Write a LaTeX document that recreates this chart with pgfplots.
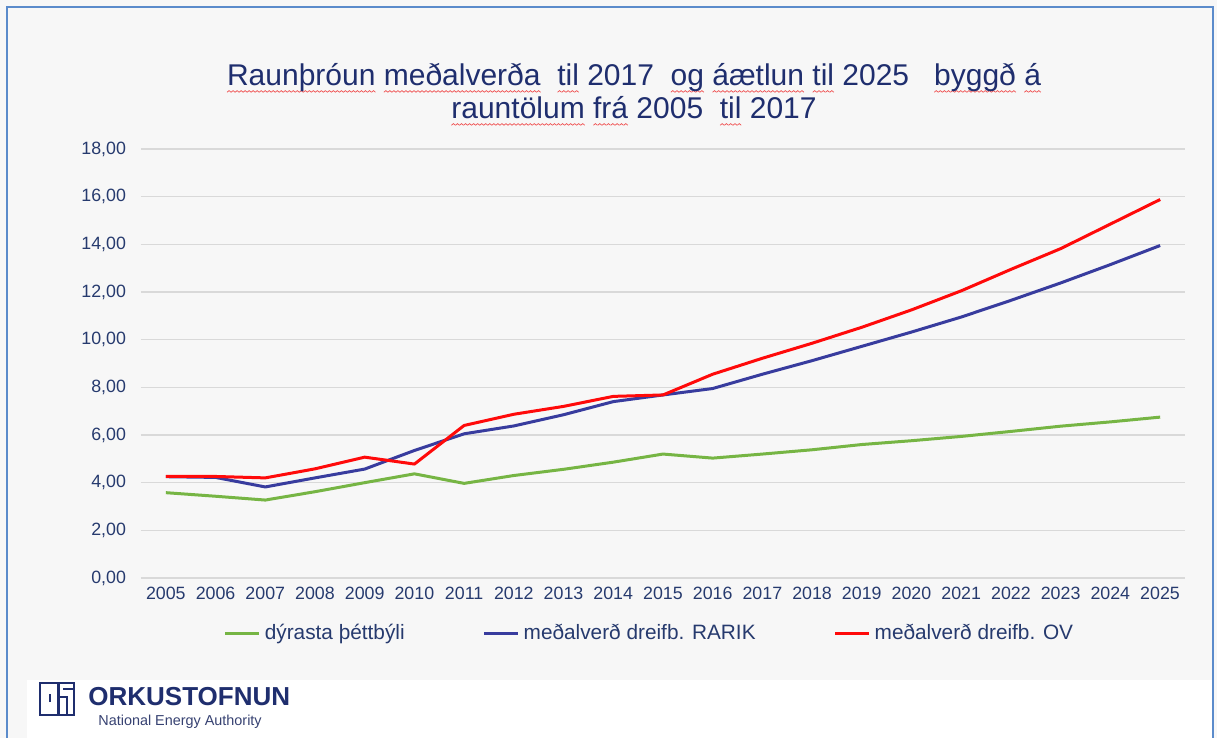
\documentclass[border=0pt]{standalone}
\usepackage{pgfplots}
\usepackage{pgfplotstable}
\pgfplotsset{compat=1.18}
\usepackage{fontspec}
\setmainfont{Liberation Sans}

\definecolor{bgc}{HTML}{F7F7F7}
\definecolor{framec}{HTML}{5B8BCB}
\definecolor{navy}{HTML}{1F2E6E}
\definecolor{tickc}{HTML}{263A6E}
\definecolor{gridc}{HTML}{D9D9D9}
\definecolor{cgreen}{HTML}{76B544}
\definecolor{cblue}{HTML}{383C9E}
\definecolor{cred}{HTML}{FF0A0A}
\definecolor{squig}{HTML}{F05050}

% spell-check squiggle under a word
\newsavebox\wavebox
\newsavebox\wordbox
\newcommand\sq[1]{\sbox\wordbox{#1}\rlap{\hbox to \wd\wordbox{\xleaders\copy\wavebox\hfill}}\usebox\wordbox}

% year, dyrasta thettbyli, RARIK, OV
\pgfplotstableread{
year green blue red
2005 3.58 4.25 4.26
2006 3.43 4.22 4.26
2007 3.27 3.82 4.20
2008 3.62 4.20 4.58
2009 4.00 4.57 5.07
2010 4.37 5.35 4.78
2011 3.97 6.05 6.40
2012 4.30 6.38 6.87
2013 4.56 6.85 7.20
2014 4.86 7.40 7.62
2015 5.20 7.68 7.68
2016 5.03 7.95 8.55
2017 5.20 8.55 9.22
2018 5.38 9.12 9.85
2019 5.60 9.72 10.52
2020 5.76 10.32 11.25
2021 5.94 10.95 12.05
2022 6.15 11.65 12.95
2023 6.37 12.38 13.82
2024 6.55 13.15 14.85
2025 6.75 13.95 15.88
}\prices

\begin{document}
\sbox\wavebox{\tikz[baseline=0pt]{\useasboundingbox (0,0) rectangle (2pt,0);
  \draw[squig, line width=0.35pt] (0,-3.4pt) -- (1pt,-2.6pt) -- (2pt,-3.4pt);}}%
\begin{tikzpicture}
% page: 1217 x 738 px, 1 px = 0.5pt
\useasboundingbox (0,0) rectangle (608.5pt,369pt);
\fill[bgc] (0,0) rectangle (608.5pt,369pt);
\draw[framec, line width=1pt] (3.5pt,0) -- (3.5pt,365.5pt) -- (606.5pt,365.5pt) -- (606.5pt,0);
\fill[white] (13.5pt,0) rectangle (606pt,29pt);

% logo
\begin{scope}[navy, line width=1.1pt]
\draw (20pt,11.5pt) rectangle (37pt,27.5pt);
\draw (29.2pt,11.5pt) -- (29.2pt,27.5pt);
\draw (24.9pt,17.9pt) -- (24.9pt,22.1pt);
\draw (29.2pt,20.3pt) -- (33.5pt,20.3pt) -- (33.5pt,11.5pt);
\draw (31.5pt,24.3pt) -- (37pt,24.3pt);
\end{scope}
\node[anchor=west, inner sep=0pt, text=navy, font=\bfseries\fontsize{13}{14}\selectfont] at (44pt,20.5pt) {ORKUSTOFNUN};
\node[anchor=west, inner sep=0pt, text=navy!75!gray, font=\fontsize{7.2}{8}\selectfont] at (49pt,8pt) {National Energy Authority};

% title
\node[align=center, text=navy, font=\fontsize{15}{16.5}\selectfont] at (317pt,323.5pt)
  {\sq{Raunþróun} \sq{meðalverða}\ \ \sq{til} 2017\ \ \sq{og} \sq{áætlun} \sq{til} 2025\ \ \ \sq{byggð} \sq{á}\\
   \sq{rauntölum} \sq{frá} 2005\ \ \sq{til} 2017};

\begin{axis}[
  at={(70.5pt,80pt)}, anchor=south west,
  scale only axis, width=522pt, height=214.5pt,
  xmin=2004.5, xmax=2025.5, ymin=0, ymax=18,
  xtick={2005,...,2025}, ytick={0,2,...,18},
  axis line style={draw=none}, major tick style={draw=none},
  ymajorgrids, grid style={gridc, line width=0.6pt},
  tick label style={font=\fontsize{8.9}{10}\selectfont, text=tickc},
  /pgf/number format/assume math mode=true,
  x tick label style={/pgf/number format/1000 sep={}},
  y tick label style={/pgf/number format/fixed, /pgf/number format/fixed zerofill,
    /pgf/number format/precision=2, /pgf/number format/use comma},
  yticklabel style={xshift=-4pt},
  xticklabel style={yshift=-1pt},
  legend columns=3,
  legend style={at={(0.488,-0.13)}, anchor=center, draw=none, fill=none,
    font=\fontsize{10.4}{12}\selectfont, text=tickc,
    /tikz/every even column/.append style={column sep=37pt}},
  legend image code/.code={\draw[#1, line width=1.5pt] (0pt,0pt) -- (17pt,0pt);},
  every axis plot/.append style={line width=1.5pt, line join=round},
]
\addplot[cgreen] table[x=year, y=green] {\prices};
\addlegendentry{dýrasta þéttbýli}
\addplot[cblue] table[x=year, y=blue] {\prices};
\addlegendentry{meðalverð dreifb. RARIK}
\addplot[cred] table[x=year, y=red] {\prices};
\addlegendentry{meðalverð dreifb. OV}
\end{axis}
\end{tikzpicture}
\end{document}
